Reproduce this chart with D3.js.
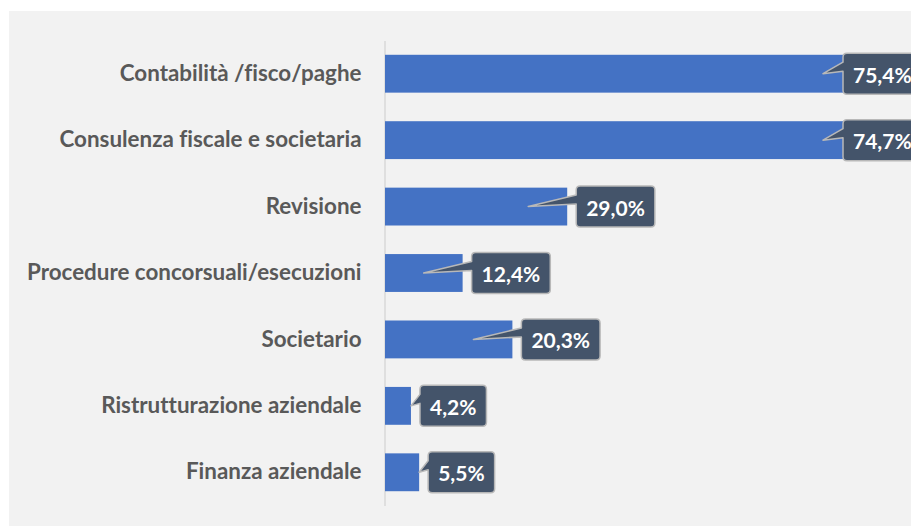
<!DOCTYPE html>
<html lang="it">
<meta charset="utf-8">
<script src="https://d3js.org/d3.v7.min.js"></script>
<style>
  body { margin: 0; background: #fff; }
  text { font-variant-ligatures: none; }
</style>
<div id="my_dataviz"></div>
<script>

// data
var categories = [
  "Contabilità /fisco/paghe",
  "Consulenza fiscale e societaria",
  "Revisione",
  "Procedure concorsuali/esecuzioni",
  "Societario",
  "Ristrutturazione aziendale",
  "Finanza aziendale"
];
var values = [75.4, 74.7, 29.0, 12.4, 20.3, 4.2, 5.5];
var valueLabels = ["75,4%", "74,7%", "29,0%", "12,4%", "20,3%", "4,2%", "5,5%"];

var data = categories.map(function(c, i) {
  return {cat: c, value: values[i], label: valueLabels[i]};
});

var W = 911, H = 526;
var fontFam = "Lato, 'Open Sans', sans-serif";

var svg = d3.select("#my_dataviz")
  .append("svg")
    .attr("width", W)
    .attr("height", H);

// grey plot panel
svg.append("rect")
  .attr("x", 9).attr("y", 11)
  .attr("width", W - 9).attr("height", H - 11)
  .style("fill", "#f2f2f2");

var x = d3.scaleLinear()
  .domain([0, 80])
  .range([384.5, 888.5]);

var y = d3.scaleBand()
  .domain(categories)
  .range([40.5, 505.5])
  .paddingInner(0.43)
  .paddingOuter(0.215);

// category axis
var yAxis = svg.append("g")
  .attr("transform", "translate(" + x(0) + ",0)")
  .call(d3.axisLeft(y).tickSize(0).tickPadding(23));
yAxis.select(".domain")
  .style("stroke", "#d9d9d9")
  .style("stroke-width", 1.5);
yAxis.selectAll("text")
  .style("font-family", fontFam)
  .style("font-weight", "bold")
  .style("font-size", "22.4px")
  .style("fill", "#595959");

// bars
svg.selectAll(".bar")
  .data(data)
  .enter()
  .append("rect")
    .attr("class", "bar")
    .attr("x", x(0) + 0.5)
    .attr("y", function(d) { return y(d.cat); })
    .attr("width", function(d) { return x(d.value) - x(0) - 0.5; })
    .attr("height", y.bandwidth())
    .style("fill", "#4472c4");

// callout labels
var maxLeft = 843, boxH = 41, r = 4;

var callouts = svg.selectAll(".callout")
  .data(data)
  .enter()
  .append("g")
    .attr("class", "callout");

callouts.each(function(d) {
  var g = d3.select(this);
  var barEnd = x(d.value);
  var barW = barEnd - x(0);
  var cy = y(d.cat) + y.bandwidth() / 2;

  var t = g.append("text")
    .style("font-family", fontFam)
    .style("font-weight", "bold")
    .style("font-size", "21px")
    .style("fill", "#ffffff")
    .attr("dominant-baseline", "central")
    .text(d.label);
  var tw = t.node().getComputedTextLength();

  // box sits right of the bar end, but is kept inside the panel
  var x0 = Math.min(barEnd + 9, maxLeft);
  var x1 = x0 + tw + 20;
  var y0 = cy - boxH / 2, y1 = cy + boxH / 2;
  var tx;
  if (x0 < barEnd + 9) tx = x0 - 20;
  else if (barW > 50) tx = barEnd - 39;
  else tx = barEnd;

  var p = d3.path();
  p.moveTo(x0, y0 + 18);
  p.lineTo(tx, cy);
  p.lineTo(x0, y0 + 9);
  p.lineTo(x0, y0 + r);
  p.quadraticCurveTo(x0, y0, x0 + r, y0);
  p.lineTo(x1 - r, y0);
  p.quadraticCurveTo(x1, y0, x1, y0 + r);
  p.lineTo(x1, y1 - r);
  p.quadraticCurveTo(x1, y1, x1 - r, y1);
  p.lineTo(x0 + r, y1);
  p.quadraticCurveTo(x0, y1, x0, y1 - r);
  p.closePath();

  g.insert("path", "text")
    .attr("d", p.toString())
    .style("fill", "#44546a")
    .style("stroke", "#b8b8b8")
    .style("stroke-width", 1.5)
    .style("stroke-linejoin", "round");

  t.attr("x", x0 + 10).attr("y", cy + 0.5);
});

</script>
</html>
